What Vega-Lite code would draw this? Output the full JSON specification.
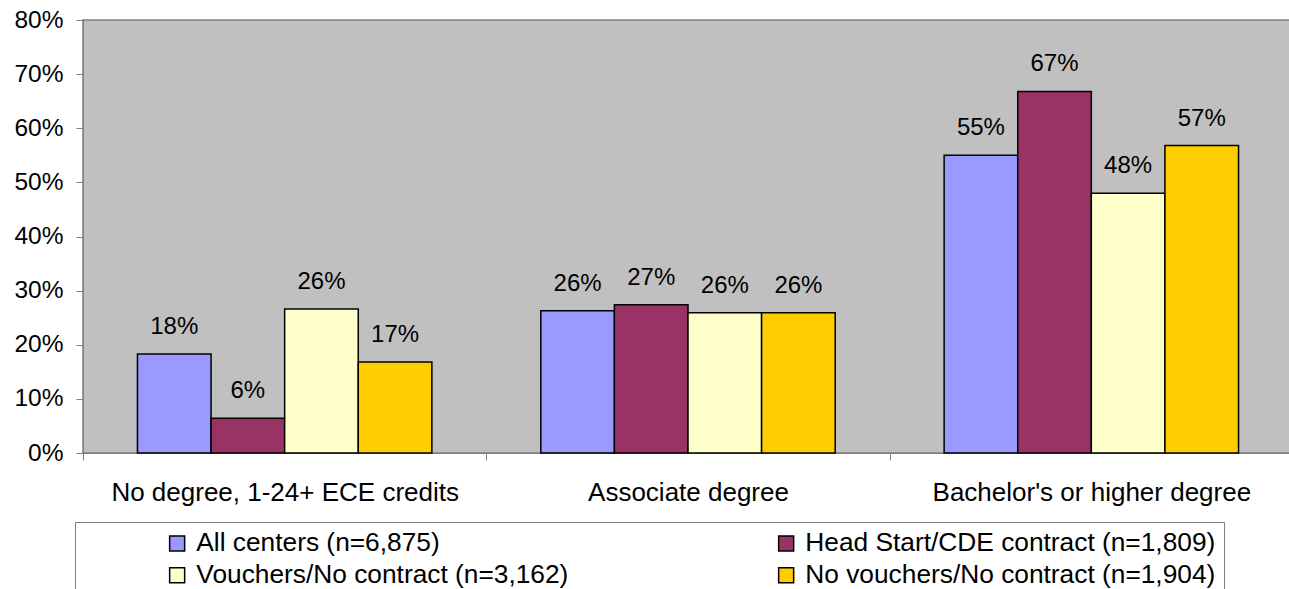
{
  "$schema": "https://vega.github.io/schema/vega-lite/v6.json",
  "width": 1210,
  "height": 433,
  "autosize": {"type": "none"},
  "padding": {"left": 83, "top": 20, "right": 0, "bottom": 136},
  "background": "white",
  "config": {
    "font": "Liberation Sans",
    "view": {"fill": "#C0C0C0", "stroke": "#808080", "strokeWidth": 1.5}
  },
  "data": {
    "values": [
      {"degree": "No degree, 1-24+ ECE credits", "group": "All centers (n=6,875)", "value": 18.3, "label": "18%"},
      {"degree": "No degree, 1-24+ ECE credits", "group": "Head Start/CDE contract (n=1,809)", "value": 6.4, "label": "6%"},
      {"degree": "No degree, 1-24+ ECE credits", "group": "Vouchers/No contract (n=3,162)", "value": 26.6, "label": "26%"},
      {"degree": "No degree, 1-24+ ECE credits", "group": "No vouchers/No contract (n=1,904)", "value": 16.8, "label": "17%"},
      {"degree": "Associate degree", "group": "All centers (n=6,875)", "value": 26.3, "label": "26%"},
      {"degree": "Associate degree", "group": "Head Start/CDE contract (n=1,809)", "value": 27.4, "label": "27%"},
      {"degree": "Associate degree", "group": "Vouchers/No contract (n=3,162)", "value": 25.9, "label": "26%"},
      {"degree": "Associate degree", "group": "No vouchers/No contract (n=1,904)", "value": 25.9, "label": "26%"},
      {"degree": "Bachelor's or higher degree", "group": "All centers (n=6,875)", "value": 55.0, "label": "55%"},
      {"degree": "Bachelor's or higher degree", "group": "Head Start/CDE contract (n=1,809)", "value": 66.8, "label": "67%"},
      {"degree": "Bachelor's or higher degree", "group": "Vouchers/No contract (n=3,162)", "value": 48.0, "label": "48%"},
      {"degree": "Bachelor's or higher degree", "group": "No vouchers/No contract (n=1,904)", "value": 56.8, "label": "57%"}
    ]
  },
  "encoding": {
    "x": {
      "field": "degree",
      "type": "nominal",
      "sort": ["No degree, 1-24+ ECE credits", "Associate degree", "Bachelor's or higher degree"],
      "scale": {"paddingInner": 0, "paddingOuter": 0},
      "axis": {
        "title": null,
        "labelAngle": 0,
        "labelFontSize": 26,
        "labelLimit": 500,
        "labelColor": "black",
        "labelPadding": 19,
        "tickBand": "extent",
        "tickSize": 7,
        "tickColor": "#808080",
        "domainColor": "#808080",
        "grid": false
      }
    },
    "xOffset": {
      "field": "group",
      "type": "nominal",
      "sort": ["All centers (n=6,875)", "Head Start/CDE contract (n=1,809)", "Vouchers/No contract (n=3,162)", "No vouchers/No contract (n=1,904)"],
      "scale": {"paddingInner": 0, "paddingOuter": 0.74}
    },
    "y": {
      "field": "value",
      "type": "quantitative",
      "scale": {"domain": [0, 80], "nice": false},
      "axis": {
        "title": null,
        "values": [0, 10, 20, 30, 40, 50, 60, 70, 80],
        "labelExpr": "datum.value + '%'",
        "labelFontSize": 24.5,
        "labelColor": "black",
        "labelPadding": 13,
        "tickSize": 7,
        "tickColor": "#808080",
        "domainColor": "#808080",
        "grid": false
      }
    }
  },
  "layer": [
    {
      "mark": {"type": "bar", "stroke": "black", "strokeWidth": 1.5},
      "encoding": {
        "color": {
          "field": "group",
          "type": "nominal",
          "scale": {
            "domain": ["All centers (n=6,875)", "Head Start/CDE contract (n=1,809)", "Vouchers/No contract (n=3,162)", "No vouchers/No contract (n=1,904)"],
            "range": ["#9999FF", "#993366", "#FFFFCC", "#FFCC00"]
          },
          "legend": {
            "orient": "none",
            "legendX": -8,
            "legendY": 502,
            "direction": "horizontal",
            "columns": 2,
            "title": " ",
            "titleOrient": "left",
            "titlePadding": 81,
            "titleFontSize": 25,
            "padding": 8,
            "fillColor": "white",
            "strokeColor": "#808080",
            "symbolType": "square",
            "symbolSize": 225,
            "symbolStrokeColor": "black",
            "symbolStrokeWidth": 1.5,
            "symbolOpacity": 1,
            "labelFontSize": 26.3,
            "labelColor": "black",
            "labelOffset": 6,
            "labelLimit": 600,
            "columnPadding": 204,
            "rowPadding": 5
          }
        }
      }
    },
    {
      "mark": {"type": "text", "fontSize": 24, "color": "black", "baseline": "middle", "dy": -27},
      "encoding": {"text": {"field": "label"}}
    }
  ]
}
